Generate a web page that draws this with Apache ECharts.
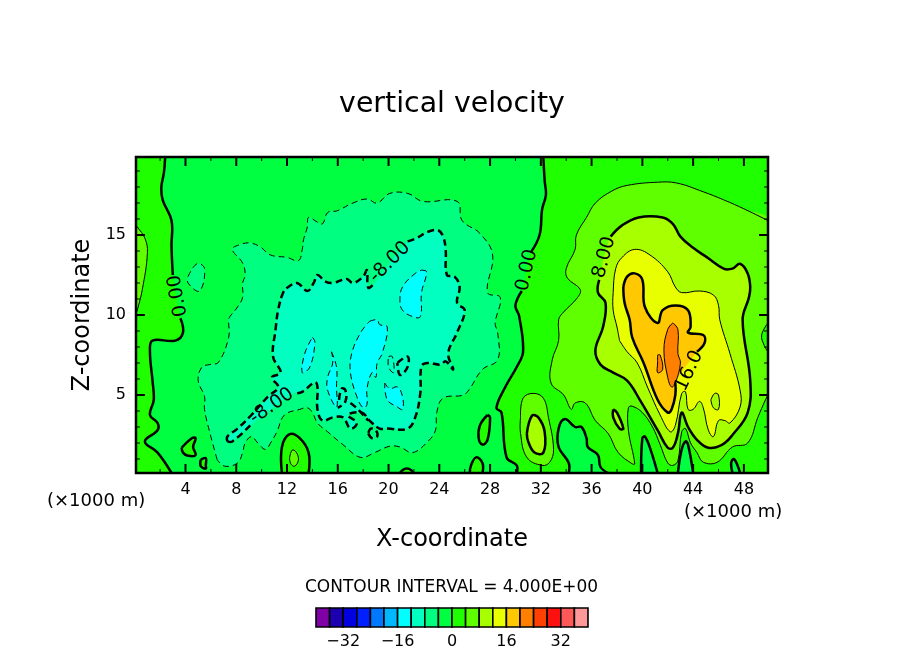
<!DOCTYPE html>
<html>
<head>
<meta charset="utf-8">
<title>vertical velocity</title>
<script src="https://cdn.jsdelivr.net/npm/echarts@6/dist/echarts.min.js"></script>
<style>
  html,body{margin:0;padding:0;background:#fff;}
  #chart{width:904px;height:654px;}
</style>
</head>
<body>
<div id="chart"></div>
<script>
// axis range and ticks, in 1000 m
const xRange=[0.1,49.9];
const zRange=[0.125,19.875];
const xLabels=[4,8,12,16,20,24,28,32,36,40,44,48];
const xMinor=[2,6,10,14,18,22,26,30,34,38,42,46];
const zLabels=[5,10,15];
const zMinor=[1,2,3,4,6,7,8,9,11,12,13,14,16,17,18,19];

// colour bar
const bandLevels=[-40,-36,-32,-28,-24,-20,-16,-12,-8,-4,0,4,8,12,16,20,24,28,32,36];
const bandColors=['#8000a8','#1c00b0','#0000e0','#0020ff','#0078ff','#00b8ff','#00ffff','#00ffc0','#00ff80','#00ff40','#20ff00','#60ff00','#a8ff00','#e8ff00','#ffc800','#ff8000','#ff4000','#ff1010','#ff5858','#ff9898'];
const barLabels=[-32,-16,0,16,32];

// contours as [x,z], null = line broken for a label
const zeroLeft=[[2.4,19.875],[2.3,18.9],[2.1,18],[2.2,17.2],[2.9,15.9],[2.9,14.3],[3,12.5],null,[3.6,9.8],[3.8,8.9],[3.2,8.4],[1.4,8.4],[1.2,7.7],[1.4,5.9],[1.5,4.7],[1.2,3.75],[1.8,3.25],[1.8,2.8],[0.8,2.1],[1.8,1.4],[2.9,0.125]];
const zeroRight=[[32.2,19.875],[32.3,18.4],[32.4,17.5],[32.1,16.6],[31.9,15],[31.2,13.9],null,[30.5,11.5],[30,10.6],[30.3,9.9],[30.6,7.7],[30.1,6.75],[29.2,5.5],[28.5,4.2],[28.9,3.9],[29.3,1.1],[30.1,0.6],[30.1,0.125]];
const pocketA=[[34.2,0.125],[34.2,0.75],[33.4,1.75],[33.4,2.9],[33.9,3.5],[34.7,3],[35.2,3],[35.6,2.3],[35.7,1.75],[36.5,1.25],[36.7,0.5],[37.3,0.125]];
const pocketB=[[39.9,0.125],[40,2.3],[40.2,2.4],[40.6,1.7],[41.2,0.125]];
const pocketC=[[42.8,0.125],[43.1,1.6],[43.4,2.1],[43.6,1.9],[44,0.125]];
const pocketD=[[47.1,0.125],[47,0.75],[47.2,1],[47.5,0.6],[47.7,0.125]];
const zeroBlobE=[[3.7,1.7],[4.5,2.3],[4.8,2.3],[4.6,1.75],[4.8,1.25],[4.2,1.2],[3.8,1.4]];
const zeroBlobF=[[5.2,0.95],[5.6,1.05],[5.6,0.6],[5.6,0.4],[5.2,0.55]];
const zeroArch=[[11.6,0.125],[11.6,1.75],[12.2,2.55],[13,2.3],[13.7,1.4],[13.7,0.125]];
const archCore=[[12.2,1.05],[12.4,1.55],[12.7,1.45],[12.9,0.95],[12.6,0.55],[12.3,0.7]];
const zeroBumpI=[[20.9,0.125],[21.1,0.3],[21.4,0.4],[21.8,0.3],[21.9,0.125]];
const zeroBumpJ=[[26.4,0.125],[26.5,0.6],[26.9,1.1],[27.4,0.75],[27.4,0.125]];
const zeroBlobK=[[27.8,3.75],[28,3.6],[27.8,2.2],[27.4,1.9],[27.1,2.3],[27.2,3.1]];
const plus4Blob=[[30.4,3.6],[30.6,4.8],[31.4,5.1],[32.2,4.8],[32.6,3.6],[33,1.6],[32.7,0.8],[32.1,0.6],[30.9,1.1],[30.4,2.6]];
const plus8Blob=[[30.9,2.6],[31.3,3.7],[31.8,3.6],[32.3,2.7],[32.2,1.4],[31.5,1.4],[31,2.1]];
const plus4Left=[[0.1,15.6],[0.2,15.5],[0.8,14.8],[1,13.9],[0.6,11.6],[0.2,10.3],[0.1,10.1]];
const plus4EdgeHole=[[49.9,9.5],[49.4,8.75],[49.6,8.1],[49.9,7.7]];

const minus4Main=[[6.5,0.95],[5.9,2.7],[5.5,4.1],[5.5,4.9],[5,5.9],[5.3,6.75],[5.9,6.9],[6.6,7.05],[7.4,8.6],[7.4,9.7],[7.5,9.9],[8.1,10.5],[8.5,11.1],[8.5,12],[8.7,12.5],[8.5,13.25],[7.7,14.1],[8.3,14.4],[9.1,14.5],[9.9,14.25],[10.7,13.75],[12,13.6],[12.9,13.4],[13.2,14.1],[13.3,14.7],[13.6,15.5],[13.7,16.1],[14.4,15.8],[14.8,15.7],[15.2,16.4],[15.9,16.5],[16.2,16.6],[17.2,17],[18.3,17.25],[19.1,17],[20.1,17.6],[21.5,17.6],[22.7,17.1],[25.4,17.1],[25.8,15.9],[27.2,15.1],[28.2,13.75],[27.8,11.4],[28.8,11.1],[28.4,9.5],[28.6,8.9],[28.6,7.2],[27.4,6.6],[26.4,5.4],[25.9,5],[24.3,4.8],[23.8,3.9],[23.7,2.8],[23.1,2.1],[21.9,1.4],[20.9,1.75],[20.1,1.8],[18.9,1.4],[17.8,1.1],[16.4,1.9],[15.2,2.7],[14.4,3.25],[14,3.9],[13.6,4.2],[13,4.1],[11.8,3.75],[11.2,2.7],[10.7,2],[10.3,1.6],[9.7,2],[9.2,2.4],[8.7,2],[8.5,1.4],[8.1,0.75],[7.1,0.55]];
const minus4Blob=[[4.2,12.4],[4.9,13.2],[5.5,12.9],[5.1,11.5],[4.2,12]];

const minus8Main=[[7.3,2.1],[7.3,2.4],[8.1,2.9],[9.2,3.75],[9.7,4.2],[10.5,4.9],[11.3,5.5],[10.8,6.1],[11.5,6.4],[10.9,7.4],[11.1,9.1],[11.3,10.3],[11.7,11.4],[12.1,11.75],[12.8,12],[13.6,11.5],[14.1,12],[14.4,12.5],[15,12.1],[15.6,12],[16.7,12.25],[17.2,12],[18,12.4],[18.3,12.8],[18.4,11.7],[18.9,12],null,[21.5,14.6],[22.2,14.8],[23.1,15.2],[23.9,15.3],[24.3,14.9],[24.5,14.1],[24.6,12.5],[25.2,12.4],[25.6,11.75],[25.4,10.75],[26,10.3],[25.4,8.9],[24.7,7.6],[25.1,6.6],[24.5,7.1],[24.1,6.9],[23.1,7],[22.6,6.8],[22.5,5.1],[22.1,3.6],[21.5,2.9],[19.9,2.9],[19.3,2.9],[18.5,3.4],[17.9,3.9],[16.8,3.75],[17.5,3.25],[17,2.9],[16.4,3.6],[15.6,3.6],[14.8,3.4],[14.4,4.1],[14.4,5.5],[14.2,5.8],[13.2,5.2],[12.5,5.1],null,[9.1,3.1],[7.7,2.1],[7.3,2.1]];
const minus8BitA=[[18.4,2.6],[18.7,2.3],[19.1,2.4],[19,2.8],[18.6,2.9]];
const minus8BitB=[[16.1,4.7],[16.3,5.4],[16.6,5.3],[16.6,4.6],[16,4.2],null];
const minus8BitC=[[17,4.5],[17.6,4.1],[18.4,3.4],null];
const minus8BitD=[[20.7,7],[21.5,7.4],[21.5,6.75],[20.9,6.25]];

const minus12A=[[22.6,12.8],[23,12.7],[22.6,11.4],[22.5,9.9],[21.9,9.9],[21.1,10.3],[20.9,10.9],[21.1,11.75],[22.1,12.6]];
const minus12B=[[18.5,9.6],[19.1,9.7],[19.3,9.4],[19.9,9.25],[19.5,7.6],[19.1,7],[19,6.1],[18.7,6.4],[18.3,5.4],[18.3,4.4],[18,4.2],[17.5,4.9],[17,6.4],[17.1,7.6],[17.8,8.9]];
const minus12C=[[19.7,5.75],[20.1,5.4],[20.7,5.5],[21.1,4.9],[21.1,4.1],[20.7,4.25],[19.9,4.7]];
const minus12D=[[15.5,7.7],[15.9,6.75],[15.9,5.5],[15.9,4.25],[15.2,5.3],[15.2,6.1],[15.6,7]];
const minus12E=[[14,8.6],[14.2,8.3],[13.8,6.75],[13.2,6.4],[13.4,7.6]];
const minus12Bit=[[20,7.4],[20.3,7.4],[20.4,6.4],[20,6.75]];

const plus4Main=[[49.9,15.9],[48.1,16.6],[46.4,17.2],[44.8,17.7],[42.7,18.25],[41.2,18.3],[38.8,18.1],[37.6,17.75],[36.3,17],[35.6,16.1],[34.8,15],[34.7,14.1],[34,12.9],[34.1,12.3],[35.1,11.6],[34.9,11.1],[33.7,10.1],[33.4,9.7],[33.4,8.4],[32.9,7.2],[32.8,5.75],[33.8,5],[34.4,4.1],[34.7,4.5],[35.5,4.5],[36.3,3.4],[37.3,2.6],[38.1,1.4],[39.2,0.7],[39.4,0.7],[38.9,2.8],[38.9,4.2],[39.2,4.3],[40,3.9],[40.8,3],[41.4,1.9],[42,0.75],[42.4,0.6],[42.8,0.9],[43.1,2.7],[43.4,2.9],[43.8,2],[44.3,1.4],[44.8,0.8],[45.9,0.8],[47.1,1.75],[48.3,2],[49.1,3.6],[49.7,4.7],[49.9,5]];
const plus8Main=[[37.5,14.9],[38.4,15.6],[39.7,16.1],[41.6,16.1],[42.4,15.7],[43,14.9],[44,14.2],[45.1,13.6],[46.4,12.9],[47.1,12.9],[47.7,13.2],[48.3,12.6],[48.5,11.75],[48.4,11.1],[47.9,9.7],[48.5,5.9],[48.3,3.9],[47.1,2.5],[46.3,1.9],[45.2,1.7],[44.3,2.2],[43.6,3],[43.1,3.9],[42.8,2.6],[42.4,1.7],[42,1.7],[41.2,2.8],[39.8,4.7],[38.8,5.9],[37.7,6.4],[36.7,6.9],[36.3,7.8],[36.9,9.25],[37.1,10.75],[36.5,11.4],[36.6,12.2],null];
const plus8Small=[[37.7,4.1],[38,3.9],[38.5,2.9],[38.2,2.9],[37.7,3.6]];
const plus12Main=[[38.2,8.4],[38.8,7.7],[39.6,7],[40.4,5.5],[41.4,3.75],[42.2,2.7],[42.6,3.1],[43.1,5.1],[43.4,5.2],[43.6,4.1],[44,4.1],[44.5,4.6],[44.8,4.2],[45.2,2.8],[45.6,2.4],[46,3.4],[46.5,3.4],[46.9,3.25],[47.7,4.25],[47.7,5.3],[46.9,7.6],[46.1,9.7],[46,10.6],[45.6,11.25],[44.5,11.5],[43.1,11.4],[42.6,11.75],[42,12.7],[40.6,13.75],[39.4,14.1],[38.4,13.6],[37.9,12.9],[37.7,11.4],[37.7,10.3],[38,9.25]];
const plus12Hole=[[45.4,4.7],[45.7,5.1],[46,5],[46,4.1],[45.6,4.2]];
const plus16Main=[[38.5,11.75],[38.8,12.4],[39.4,12.6],[40,12.2],[40.2,10.5],[41.2,9.5],[41.6,10.3],[42.6,10.6],[43.6,10.3],[43.8,9.25],[43.6,8.9],[44.8,8.75],[44.9,8.25],[44.3,7.7],null,[42.6,5.75],[42.6,5],[42.3,4.1],[42,3.9],[41.2,4.7],[40.1,7],[39.2,8.6],[39,9.7],[38.6,10.75],[38.5,11.75]];
const plus20A=[[42.4,9.5],[42.8,9.1],[42.8,7.6],[43,7],[42.6,5.75],[42.3,5.5],[42,6.1],[41.7,7.8],[42,9.1]];
const plus20B=[[41.2,7.5],[41.4,7.5],[41.6,6.6],[41.2,6.4],[41.2,7]];

// contour labels: x, z, text, angle
const contourLabels=[
  [3.4,11.2,'0.00',100],
  [30.9,12.8,'0.00',77],
  [37,13.6,'8.00',75],
  [43.7,6.5,'16.0',65],
  [20.1,13.3,'-8.00',45],
  [10.8,4.3,'-8.00',35]
];

const xa=xRange[0],xb=xRange[1],za=zRange[0],zb=zRange[1];
const leftCorners=[[xa+0.05,za],[xa,za],[xa,za+0.05],[xa,zb-0.05],[xa,zb],[xa+0.05,zb]];
const rightCorners=[[xb-0.05,za],[xb,za],[xb,za+0.05],[xb,zb-0.05],[xb,zb],[xb-0.05,zb]];

// painted in this order: contour level, band filled inside (null = line only), points, corners that close it
const contours=[
  [0,0,zeroLeft,leftCorners],
  [0,0,zeroRight,rightCorners],
  [0,-4,pocketA],[0,-4,pocketB],[0,-4,pocketC],[0,-4,pocketD],
  [0,0,zeroBlobE],[0,0,zeroBlobF],[0,0,zeroArch],[4,4,archCore],
  [0,0,zeroBumpI],[0,0,zeroBumpJ],[0,0,zeroBlobK],
  [4,4,plus4Blob],[8,8,plus8Blob],[4,4,plus4Left],
  [-4,-8,minus4Main],[-4,-8,minus4Blob],
  [-8,-12,minus8Main],
  [-12,-16,minus12A],[-12,-16,minus12B],[-12,-16,minus12C],[-12,-16,minus12D],[-12,-16,minus12E],
  [-12,null,minus12Bit],
  [-8,null,minus8BitA],[-8,null,minus8BitB],[-8,null,minus8BitC],[-8,null,minus8BitD],
  [4,4,plus4Main],
  [4,0,plus4EdgeHole],
  [8,8,plus8Main],[8,8,plus8Small],
  [12,12,plus12Main],[12,8,plus12Hole],
  [16,16,plus16Main],
  [20,20,plus20A],[20,20,plus20B]
];

const curve=0.4;

function bandColor(level){
  return bandColors[bandLevels.indexOf(level)];
}

function onEdge(p){
  return p[0]===xa||p[0]===xb||p[1]===za||p[1]===zb;
}

function renderFill(params,api){
  const c=contours[params.dataIndex];
  if(c[1]===null) return null;
  const pts=c[2].filter(p=>p).concat(c[3]||[]);
  return {
    type:'polygon',
    shape:{points:pts.map(p=>api.coord(p)),smooth:curve},
    style:{fill:bandColor(c[1]),stroke:null}
  };
}

function renderLine(params,api){
  const c=contours[params.dataIndex];
  const thick=c[0]%8===0;
  const runs=[[]];
  c[2].forEach(p=>{
    if(p) runs[runs.length-1].push(p);
    else runs.push([]);
  });
  // a single run that stays inside the frame is a closed ring
  if(runs.length===1&&!onEdge(runs[0][0])) runs[0].push(runs[0][0]);
  return {
    type:'group',
    children:runs.filter(run=>run.length).map(run=>({
      type:'polyline',
      shape:{points:run.map(p=>api.coord(p)),smooth:curve},
      style:{
        fill:null,
        stroke:'#000',
        lineWidth:thick?2.5:1,
        lineDash:c[0]<0?(thick?[7,4]:[6,4]):null
      }
    }))
  };
}

function renderLabel(params,api){
  const l=contourLabels[params.dataIndex];
  const p=api.coord([l[0],l[1]]);
  return {
    type:'text',
    x:p[0],
    y:p[1],
    rotation:l[3]*Math.PI/180,
    style:{text:l[2],align:'center',verticalAlign:'middle',fill:'#000',font:'19px "DejaVu Sans"'}
  };
}

function tickLine(a,b,w){
  return {type:'line',shape:{x1:a[0],y1:a[1],x2:b[0],y2:b[1]},style:{stroke:'#000',lineWidth:w}};
}

function renderFrame(params,api){
  const kids=[];
  const addX=(list,len,w)=>list.forEach(v=>{
    const lo=api.coord([v,za]),hi=api.coord([v,zb]);
    kids.push(tickLine(lo,[lo[0],lo[1]-len],w));
    kids.push(tickLine(hi,[hi[0],hi[1]+len],w));
  });
  const addZ=(list,len,w)=>list.forEach(v=>{
    const lo=api.coord([xa,v]),hi=api.coord([xb,v]);
    kids.push(tickLine(lo,[lo[0]+len,lo[1]],w));
    kids.push(tickLine(hi,[hi[0]-len,hi[1]],w));
  });
  addX(xLabels,9,2);
  addX(xMinor,4,1);
  addZ(zLabels,9,2);
  addZ(zMinor,4,1);
  const tl=api.coord([xa,zb]),br=api.coord([xb,za]);
  kids.push({
    type:'rect',
    shape:{x:tl[0],y:tl[1],width:br[0]-tl[0],height:br[1]-tl[1]},
    style:{fill:null,stroke:'#000',lineWidth:2.5}
  });
  return {type:'group',children:kids};
}

function renderCell(params,api){
  const lo=bandLevels[params.dataIndex];
  const a=api.coord([lo,1]),b=api.coord([lo+4,0]);
  return {
    type:'rect',
    shape:{x:a[0],y:a[1],width:b[0]-a[0],height:b[1]-a[1]},
    style:{fill:bandColors[params.dataIndex],stroke:'#000',lineWidth:1.6}
  };
}

const chart=echarts.init(document.getElementById('chart'));
const textFont={color:'#000',fontFamily:'DejaVu Sans',fontWeight:'normal'};

chart.setOption({
  animation:false,
  backgroundColor:'#fff',
  title:{
    text:'vertical velocity',
    left:'center',
    top:86,
    textStyle:Object.assign({fontSize:28.4},textFont)
  },
  grid:[
    {left:136,top:157,width:632,height:316,show:true,backgroundColor:bandColor(-4),borderWidth:0},
    {left:316,top:608,width:272,height:19}
  ],
  xAxis:[{
    type:'value',gridIndex:0,min:xa,max:xb,
    name:'X-coordinate',nameLocation:'middle',nameGap:55,
    nameTextStyle:Object.assign({fontSize:24},textFont),
    axisLine:{show:false},axisTick:{show:false},splitLine:{show:false},
    axisLabel:{customValues:xLabels,margin:9,fontSize:16,color:'#000',fontFamily:'DejaVu Sans'}
  },{
    type:'value',gridIndex:1,min:-40,max:40,
    axisLine:{show:false},axisTick:{show:false},splitLine:{show:false},
    axisLabel:{
      customValues:barLabels,margin:7,fontSize:16,color:'#000',fontFamily:'DejaVu Sans',
      formatter:v=>v<0?'\u2212'+(-v):String(v)
    }
  }],
  yAxis:[{
    type:'value',gridIndex:0,min:za,max:zb,
    name:'Z-coordinate',nameLocation:'middle',nameGap:41,
    nameTextStyle:Object.assign({fontSize:24},textFont),
    axisLine:{show:false},axisTick:{show:false},splitLine:{show:false},
    axisLabel:{customValues:zLabels,margin:10,fontSize:16,color:'#000',fontFamily:'DejaVu Sans'}
  },{
    type:'value',gridIndex:1,min:0,max:1,show:false
  }],
  graphic:[
    {type:'text',left:47,top:492,style:{text:'(\u00d71000 m)',font:'18px "DejaVu Sans"',fill:'#000'}},
    {type:'text',left:684,top:503,style:{text:'(\u00d71000 m)',font:'18px "DejaVu Sans"',fill:'#000'}},
    {type:'text',left:305,top:579,style:{text:'CONTOUR INTERVAL = 4.000E+00',font:'17px "DejaVu Sans"',fill:'#000'}}
  ],
  series:[
    {type:'custom',name:'bands',xAxisIndex:0,yAxisIndex:0,z:2,clip:true,renderItem:renderFill,data:contours.map((c,i)=>[i])},
    {type:'custom',name:'contours',xAxisIndex:0,yAxisIndex:0,z:3,clip:true,renderItem:renderLine,data:contours.map((c,i)=>[i])},
    {type:'custom',name:'labels',xAxisIndex:0,yAxisIndex:0,z:4,renderItem:renderLabel,data:contourLabels.map((c,i)=>[i])},
    {type:'custom',name:'frame',xAxisIndex:0,yAxisIndex:0,z:5,renderItem:renderFrame,data:[[0]]},
    {type:'custom',name:'bar',xAxisIndex:1,yAxisIndex:1,z:2,renderItem:renderCell,data:bandLevels.map(v=>[v])}
  ]
});
</script>
</body>
</html>
